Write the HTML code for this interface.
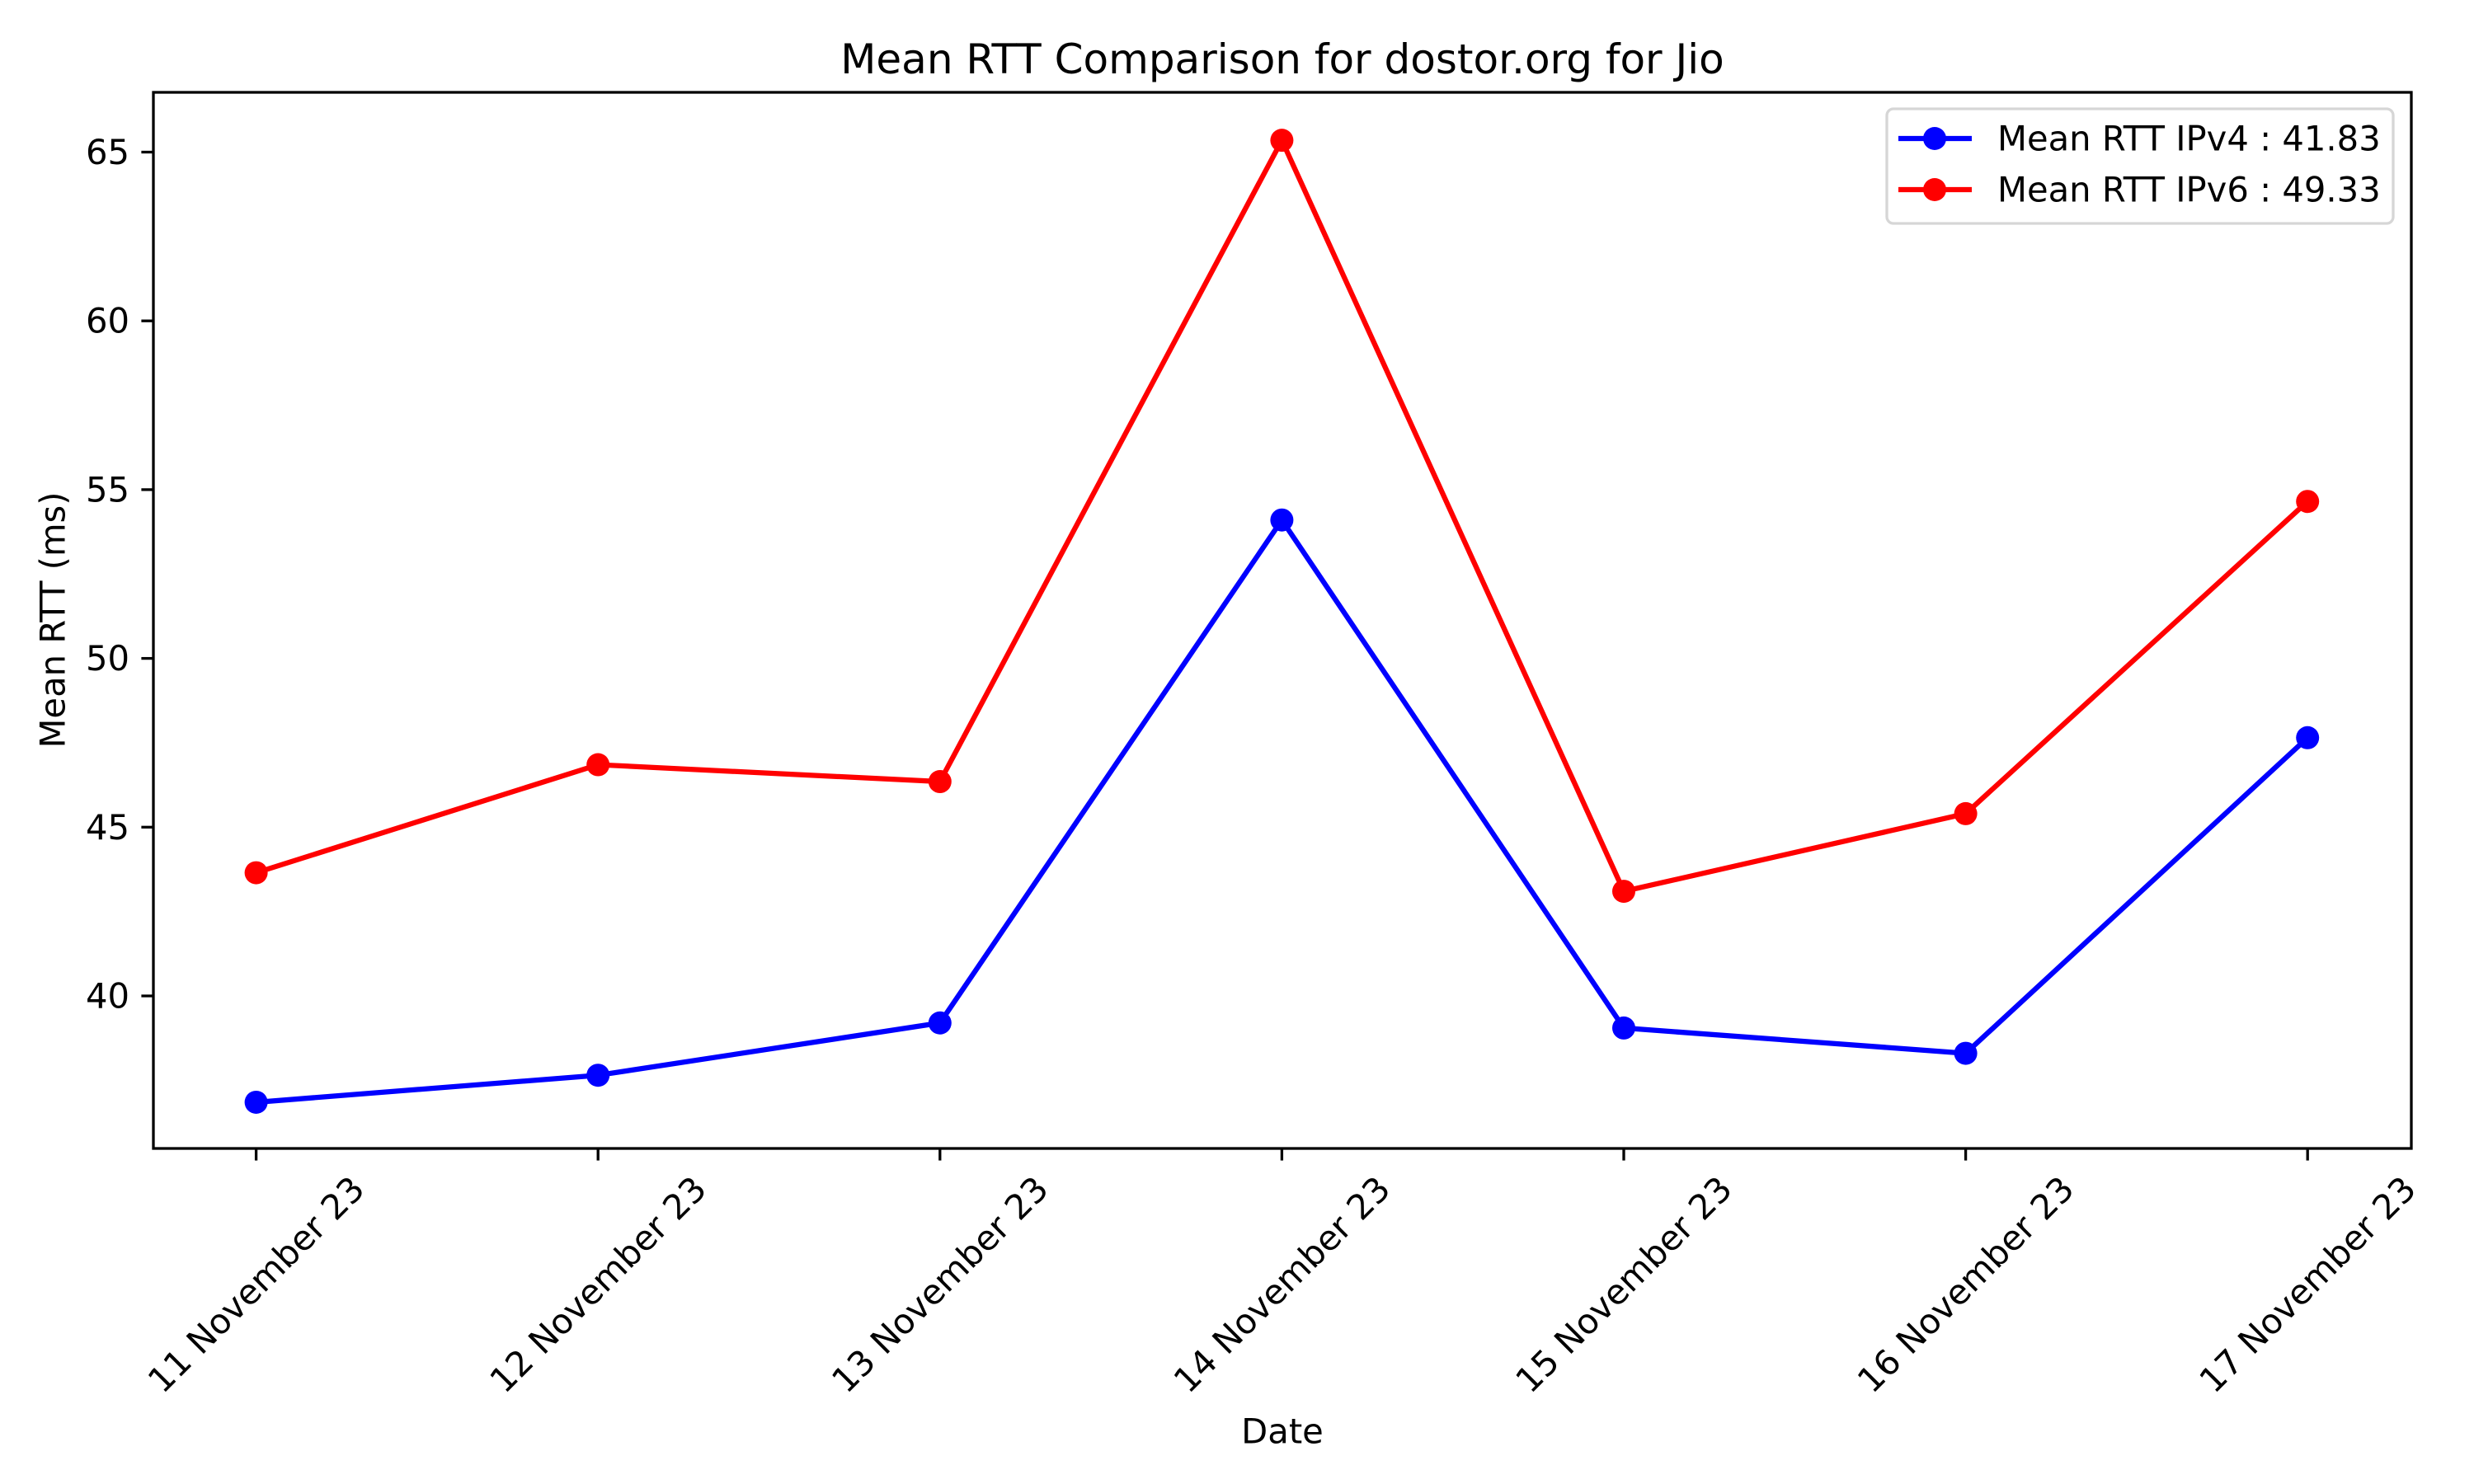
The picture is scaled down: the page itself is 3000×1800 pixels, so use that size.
<!DOCTYPE html>
<html><head><meta charset="utf-8"><style>
body{margin:0;background:#fff}
svg{display:block;font-family:"DejaVu Sans","Liberation Sans",sans-serif}
</style></head><body>
<svg id="chart" width="3000" height="1800" viewBox="0 0 3000 1800" xmlns="http://www.w3.org/2000/svg">
<rect width="3000" height="1800" fill="#fff"/>
<text x="1555" y="72" font-size="50" text-anchor="middle" dominant-baseline="central">Mean RTT Comparison for dostor.org for Jio</text>
<text transform="translate(64,752) rotate(-90)" font-size="41.7" text-anchor="middle" dominant-baseline="central">Mean RTT (ms)</text>
<text x="1555" y="1736" font-size="41.7" text-anchor="middle" dominant-baseline="central">Date</text>
<g id="marks"></g>
<rect x="186" y="112" width="2738" height="1281" fill="none" stroke="#000" stroke-width="3.3"/>
<g id="axes"></g>
<g>
<rect x="2288" y="132" width="614" height="139" rx="8" fill="#fff" fill-opacity="0.8" stroke="#d6d6d6" stroke-width="3.3"/>
<g>
<line x1="2302" y1="168" x2="2391" y2="168" stroke="#0000ff" stroke-width="6.25"/>
<circle cx="2346" cy="168" r="14" fill="#0000ff"/>
<text x="2422" y="168" font-size="41.7" dominant-baseline="central">Mean RTT IPv4 : 41.83</text>
</g>
<g>
<line x1="2302" y1="230" x2="2391" y2="230" stroke="#ff0000" stroke-width="6.25"/>
<circle cx="2346" cy="230" r="14" fill="#ff0000"/>
<text x="2422" y="230" font-size="41.7" dominant-baseline="central">Mean RTT IPv6 : 49.33</text>
</g>
</g>
</svg>
<script>
const categories = ["11 November 23","12 November 23","13 November 23","14 November 23","15 November 23","16 November 23","17 November 23"];
const ipv4 = [36.85, 37.65, 39.2, 54.1, 39.05, 38.3, 47.65];
const ipv6 = [43.65, 46.85, 46.35, 65.35, 43.1, 45.4, 54.65];
const yTicks = [40, 45, 50, 55, 60, 65];

const NS = "http://www.w3.org/2000/svg";
function xPos(i){ return 310.6 + i * 414.6; }
function yPos(v){ return 184.5 + (65 - v) * 40.94; }
function mk(tag, attrs, parent){
  const e = document.createElementNS(NS, tag);
  for (const k in attrs) e.setAttribute(k, attrs[k]);
  parent.appendChild(e);
  return e;
}
const marks = document.getElementById('marks');
const axes = document.getElementById('axes');

function drawSeries(vals, color, name){
  const g = mk('g', {}, marks);
  
  
  const pts = vals.map((v,i)=> xPos(i)+','+yPos(v)).join(' ');
  const pl = mk('polyline', {points: pts, fill:'none', stroke: color, 'stroke-width': 6.25, 'stroke-linejoin':'round'}, g);
  
  
  vals.forEach((v,i)=>{
    const c = mk('circle', {cx: xPos(i), cy: yPos(v), r: 14, fill: color}, g);
    
    
  });
}
drawSeries(ipv6, '#ff0000', 'ipv6');
drawSeries(ipv4, '#0000ff', 'ipv4');

yTicks.forEach(t=>{
  const y = yPos(t);
  const l = mk('line', {x1:171.4, x2:186, y1:y, y2:y, stroke:'#000', 'stroke-width':3.3}, axes);
  
  
  const tx = mk('text', {x:157, y:y, 'font-size':41.7, 'text-anchor':'end', 'dominant-baseline':'central'}, axes);
  
  
  tx.textContent = t;
});
categories.forEach((c,i)=>{
  const x = xPos(i);
  const l = mk('line', {x1:x, x2:x, y1:1393, y2:1407.6, stroke:'#000', 'stroke-width':3.3}, axes);
  
  
  const tx = mk('text', {transform:'translate('+x+',1558) rotate(-45)', 'font-size':41.7, 'text-anchor':'middle', 'dominant-baseline':'central'}, axes);
  
  
  tx.textContent = c;
});
</script>
</body></html>
